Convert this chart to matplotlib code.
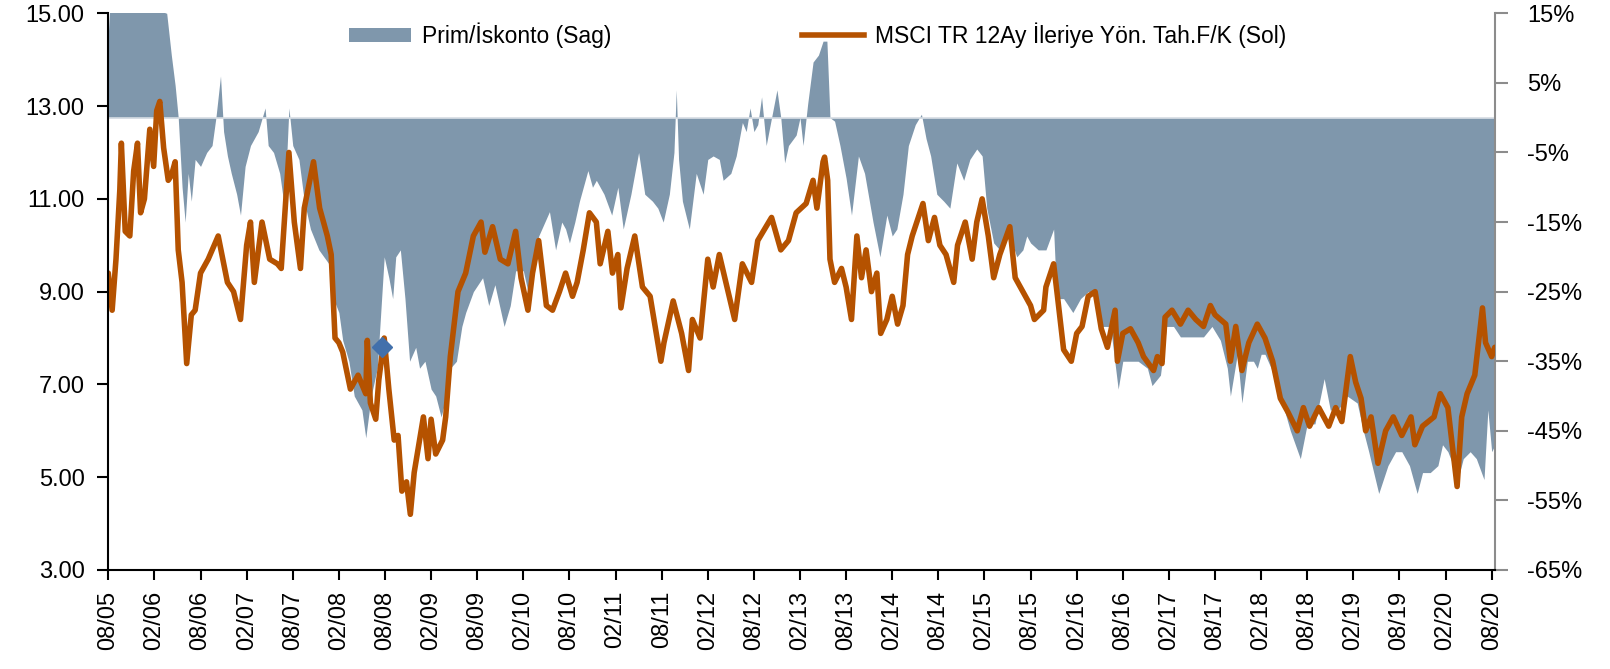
import matplotlib
matplotlib.use('Agg')
import matplotlib.pyplot as plt
from matplotlib.patches import Patch
from matplotlib.lines import Line2D
from matplotlib.ticker import FuncFormatter

plt.rcParams['font.family'] = ['Liberation Sans', 'DejaVu Sans']

# x positions are months since Aug 2005
tick_labels = ['08/05', '02/06', '08/06', '02/07', '08/07', '02/08', '08/08', '02/09',
               '08/09', '02/10', '08/10', '02/11', '08/11', '02/12', '08/12', '02/13',
               '08/13', '02/14', '08/14', '02/15', '08/15', '02/16', '08/16', '02/17',
               '08/17', '02/18', '08/18', '02/19', '08/19', '02/20', '08/20']

# MSCI TR 12M forward P/E (left axis)
pe_t = [0, 0.5, 1, 1.5, 1.7, 2.2, 2.8, 3.3, 3.8, 4.2, 4.7, 5.4, 5.9, 6.3, 6.7, 7.2, 7.8, 8.2,
        8.7, 9.1, 9.6, 10.2, 10.8, 11.3, 12, 13, 14.3, 15.5, 16.3, 17.2, 18, 18.5, 19, 20,
        21, 22, 22.5, 23.5, 24.2, 25, 25.5, 26.7, 27.5, 28.5, 29, 29.5, 30, 30.5, 31.5, 32.5,
        33.5, 33.7, 34.1, 34.8, 35.2, 35.9, 36.5, 37.2, 37.7, 38.2, 38.8, 39.3, 39.8, 41,
        41.6, 42, 42.6, 43.5, 43.9, 44.5, 45.5, 46.5, 47.5, 48.5, 49, 50, 51, 52, 53, 53.7,
        54.6, 55.2, 56, 57, 57.8, 58.7, 59.5, 60.4, 61, 61.8, 62.6, 63.5, 64, 65, 65.6, 66.3,
        66.7, 67.5, 68.5, 69.5, 70.5, 71.9, 72.3, 73.5, 74.6, 75.5, 76, 77, 78, 78.7, 79.5,
        80.5, 81.5, 82.5, 83.7, 84.5, 86.3, 87.5, 88.5, 89.5, 90.8, 91.7, 92.2, 93, 93.2,
        93.6, 93.9, 94.5, 95.4, 96, 96.7, 97.4, 98, 98.6, 99.3, 100, 100.5, 101.3, 102,
        102.7, 103.4, 104, 104.6, 105.4, 106, 106.7, 107.5, 108.2, 109, 110, 110.5, 111.5,
        112.4, 113, 113.7, 114.5, 115.2, 116, 117.3, 118, 119, 120, 120.5, 121.7, 122, 123,
        123.5, 124.3, 125.3, 126, 126.7, 127.5, 128.4, 129.2, 130, 131, 131.3, 132, 133,
        134, 134.7, 136, 136.5, 137.1, 137.5, 138.4, 139.5, 140.5, 141.5, 142.5, 143.4, 144,
        145.4, 146, 146.7, 147.5, 148.4, 149.5, 150.5, 151.5, 152.5, 153.5, 154.7, 155.5,
        156.3, 157.5, 158.8, 159.7, 160.5, 161.6, 162.3, 163, 163.6, 164.3, 165.2, 166.2,
        167.2, 168.3, 169.5, 170, 171, 172.5, 173.3, 174.3, 175, 175.5, 176.1, 176.8, 177.8,
        178.8, 179.2, 180, 180.4]
pe_v = [9.4, 8.6, 9.7, 11.2, 12.2, 10.3, 10.2, 11.6, 12.2, 10.7, 11.0, 12.5, 11.7, 12.9, 13.1,
        12.1, 11.4, 11.5, 11.8, 9.9, 9.2, 7.45, 8.5, 8.6, 9.4, 9.7, 10.2, 9.2, 9.0, 8.4, 10.0,
        10.5, 9.2, 10.5, 9.7, 9.6, 9.5, 12.0, 10.5, 9.5, 10.8, 11.8, 10.8, 10.2, 9.8, 8.0, 7.9,
        7.7, 6.9, 7.2, 6.8, 7.95, 6.6, 6.25, 7.1, 8.0, 6.9, 5.8, 5.9, 4.7, 4.9, 4.2, 5.1, 6.3,
        5.4, 6.25, 5.5, 5.8, 6.3, 7.6, 9.0, 9.4, 10.2, 10.5, 9.85, 10.4, 9.7, 9.6, 10.3, 9.3,
        8.6, 9.4, 10.1, 8.7, 8.6, 9.0, 9.4, 8.9, 9.2, 9.9, 10.7, 10.5, 9.6, 10.3, 9.4, 9.8,
        8.65, 9.5, 10.2, 9.1, 8.9, 7.5, 7.9, 8.8, 8.1, 7.3, 8.4, 8.0, 9.7, 9.1, 9.8,
        9.1, 8.4, 9.6, 9.2, 10.1, 10.6, 9.9, 10.1, 10.7, 10.9, 11.4, 10.8, 11.8, 11.9,
        11.4, 9.7, 9.2, 9.5, 9.1, 8.4, 10.2, 9.3, 9.9, 9.0, 9.4, 8.1, 8.4, 8.9,
        8.3, 8.7, 9.8, 10.2, 10.6, 10.9, 10.1, 10.6, 10.0, 9.8, 9.2, 10.0, 10.5,
        9.7, 10.5, 11.0, 10.2, 9.3, 9.8, 10.4, 9.3, 9.0, 8.7, 8.4, 8.6, 9.1, 9.6,
        8.9, 7.75, 7.5, 8.1, 8.25, 8.9, 9.0, 8.2, 7.8, 8.6, 7.5, 8.1, 8.2,
        7.9, 7.6, 7.3, 7.6, 7.45, 8.45, 8.6, 8.3, 8.6, 8.4, 8.25, 8.7, 8.5,
        8.3, 7.5, 8.25, 7.3, 7.9, 8.3, 8.0, 7.5, 6.7, 6.4, 6.0, 6.5,
        6.1, 6.5, 6.1, 6.5, 6.2, 7.6, 7.05, 6.7, 6.0, 6.3, 5.3, 6.0,
        6.3, 5.9, 6.3, 5.7, 6.1, 6.3, 6.8, 6.5, 5.5, 4.8, 6.3, 6.8, 7.2,
        8.65, 7.9, 7.6, 7.8]

# Premium / discount in % (right axis)
prem_t = [0, 0.3, 7.6, 8.2, 8.7, 9.1, 9.6, 10, 10.4, 10.8, 11.3, 12, 12.8, 13.5, 14, 14.6, 15,
          15.5, 16, 16.7, 17.2, 17.8, 18.5, 19.5, 20.4, 20.8, 21.5, 22.3, 22.8, 23.2, 23.5, 24,
          24.8, 25.5, 26.3, 27.4, 28.7, 29.3, 30, 30.5, 31.3, 32, 33, 33.5, 34.2, 35, 35.9,
          36.5, 37, 37.4, 38, 38.6, 39.2, 40, 40.5, 41.2, 42, 42.6, 43.3, 44, 44.5, 45.3, 46,
          46.5, 47.5, 48.7, 49.5, 50.3, 51.5, 52.3, 53, 54, 54.6, 55.5, 56, 57.4, 58.2, 59,
          59.5, 60, 60.7, 61.3, 62.4, 63, 63.5, 64.5, 65.5, 66.3, 67, 68, 69, 69.8, 70.8, 71.5,
          72.2, 73, 73.6, 73.9, 74.2, 74.7, 75.6, 76.5, 77.4, 78, 78.7, 79.5, 80, 81, 81.7,
          82.5, 83, 83.5, 84, 84.5, 85, 85.6, 86.3, 87, 87.5, 88, 88.5, 89.5, 90, 90.4, 91,
          91.7, 92.4, 93, 93.5, 93.9, 94.5, 95.2, 96, 96.7, 97.6, 98.4, 99.5, 100.4, 101.3,
          102, 102.6, 103.4, 104.1, 105, 105.8, 106.4, 107, 107.8, 108.7, 109.5, 110.4, 111.3,
          112.1, 113, 113.7, 114.3, 115.2, 116, 117, 118.2, 119, 119.5, 120, 121, 122, 123,
          123.4, 124.3, 125.5, 126.5, 127.5, 128.5, 129.3, 130.4, 131.4, 132, 133, 134, 135.2,
          135.8, 136.9, 137.7, 138.6, 139.5, 140.5, 141.5, 142.5, 143.6, 144.7, 145.6, 146,
          146.9, 147.5, 148.2, 149, 149.5, 150, 150.5, 151.3, 152.5, 153.8, 155.1, 156, 157,
          158.2, 159, 160, 161.2, 162.5, 163.3, 164, 165.3, 166.5, 167.5, 168.3, 169.3, 170.3,
          171, 172, 173, 173.6, 174.3, 175, 175.6, 176.3, 177.2, 178, 179, 179.5, 180, 180.43]
prem_v = [12, 18, 15, 9, 4.6, 0, -10, -15, -8, -12, -6, -7, -5, -4, 0, 6, -2,
          -5.5, -8, -11, -14, -7, -4, -2, 1.4, -4, -5, -8, -12, -6, 1.4, -4,
          -6, -12, -16, -19, -21, -26, -28, -32, -35, -40, -42, -46, -40, -36, -20,
          -23, -26, -20, -19, -26, -35, -33, -36, -35, -39, -40, -43, -40, -36, -35, -30,
          -28, -25, -23, -27, -24, -30, -27, -22, -22, -25, -19, -17, -13.5, -19, -15,
          -16, -18, -15, -12, -7.6, -10, -9, -11, -14, -10, -16, -11, -5, -11, -12, -13,
          -15, -11, -5, 4, -6, -12, -16, -8, -11, -6, -5.5, -6, -9, -8, -5.5,
          -0.7, -2, 1.4, -2, -1, 3, -4, 0, 4, 0, -6.5, -4, -2.5, 0, -4, 2,
          8, 9, 11, 11, 0, -0.5, -4, -8.7, -14, -5.5, -8, -15, -20, -14,
          -17, -16, -11, -4, -1, 0.5, -3, -5.5, -11, -12, -13, -6.5, -9,
          -6, -4.5, -5.5, -13, -18, -19, -16, -20, -19, -17, -18, -19, -19, -16,
          -26, -26, -28, -26, -25, -25, -30, -30, -39, -35, -35, -35, -36,
          -38.5, -37, -30, -30, -31.5, -31.5, -31.5, -31.5, -30, -32, -36, -40,
          -34, -41, -35, -35, -36, -34, -34, -36, -40, -45, -49, -44, -44,
          -37.5, -42, -42, -40, -41, -45, -48, -54, -50, -48, -48, -50, -54,
          -51, -51, -50, -47, -48, -50, -52, -49, -48, -49, -52, -42, -48, -47]

marker_t = [35.6]
marker_v = [7.8]

FILL = '#7F97AC'
LINE = '#B55200'

fig = plt.figure(figsize=(16.1, 6.69), dpi=100)
ax = fig.add_axes([108.3 / 1610, 1 - 570 / 669, (1495 - 108.3) / 1610, (570 - 13.3) / 669])
ax2 = ax.twinx()

ax2.fill_between(prem_t, 0, prem_v, color=FILL, lw=0)
ax2.axhline(0, color='#d5dce3', lw=1.2)
ax2.set_ylim(-65, 15)
ax2.set_yticks(range(-65, 16, 10))
ax2.yaxis.set_major_formatter(FuncFormatter(lambda v, p: f'{v:.0f}%'))

ax.set_zorder(ax2.get_zorder() + 1)
ax.patch.set_visible(False)
ax.plot(pe_t, pe_v, color=LINE, lw=4.0, solid_joinstyle='round', solid_capstyle='round')
ax.plot(marker_t, marker_v, marker='D', ms=10, color='#4270AB', ls='none')
ax.set_ylim(3, 15)
ax.set_yticks(range(3, 16, 2))
ax.yaxis.set_major_formatter(FuncFormatter(lambda v, p: f'{v:.2f}'))
ax.set_xlim(0, 180.43)
ax.set_xticks(range(0, 181, 6))
ax.set_xticklabels(tick_labels, rotation=90)

for a in (ax, ax2):
    a.spines['top'].set_visible(False)
ax.spines['right'].set_visible(False)
ax2.spines['left'].set_visible(False)
ax2.spines['bottom'].set_visible(False)
ax.spines['left'].set_linewidth(1.5)
ax.spines['bottom'].set_linewidth(1.5)
ax2.spines['right'].set_color('#8c8c8c')
ax2.spines['right'].set_linewidth(1.5)

ax.tick_params(axis='y', direction='out', length=8, width=1.5, labelsize=17, pad=9)
ax.tick_params(axis='x', direction='out', length=7, width=1.5, labelsize=17, pad=8)
ax2.tick_params(axis='y', direction='out', length=9, width=1.5, color='#8c8c8c',
                labelcolor='black', labelsize=17, pad=14)

handles = [Patch(facecolor=FILL, edgecolor='none'), Line2D([], [], color=LINE, lw=4)]
labels = ['Prim/İskonto (Sag)', 'MSCI TR 12Ay İleriye Yön. Tah.F/K (Sol)']
fig.legend(handles, labels, loc='center left', bbox_to_anchor=(349 / 1610, 1 - 35 / 669),
           ncol=2, frameon=False, fontsize=16.5, handlelength=2.7, handleheight=0.55,
           handletextpad=0.5, columnspacing=8.3, borderpad=0, borderaxespad=0)

fig.savefig('out.png', dpi=100)
